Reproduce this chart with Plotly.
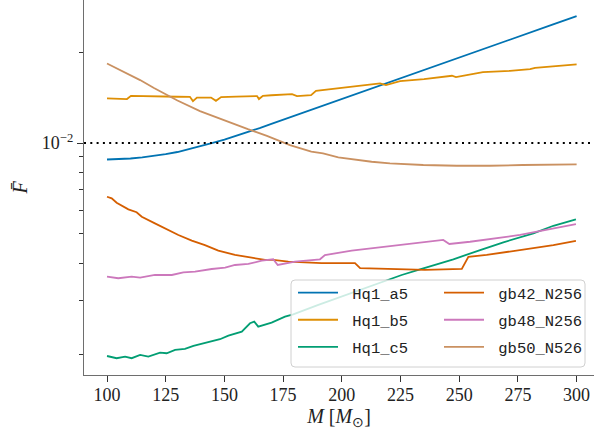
import plotly.graph_objects as go

# ---- data (M in solar masses, F-bar values) ----
m_a5 = [100, 105, 110, 115, 120, 125, 130, 135, 140, 145, 150, 155, 160, 165, 170, 180, 190, 200,
        210, 220, 230, 240, 250, 260, 270, 280, 290, 300]
f_a5 = [0.00882, 0.00885, 0.00889, 0.00897, 0.00906, 0.00919, 0.00934, 0.00954, 0.00977, 0.01001,
        0.01027, 0.01056, 0.01086, 0.01121, 0.01157, 0.01232, 0.01313, 0.01399, 0.01490, 0.01588,
        0.01691, 0.01801, 0.01919, 0.02044, 0.02178, 0.02320, 0.02472, 0.02634]

m_b5 = [100, 104, 108.5, 110.2, 115, 120, 125, 130, 135.3, 136.6, 138.3, 144.3, 146.4, 148.6, 155,
        160, 163.9, 164.7, 166.4, 170, 175, 178.8, 180.9, 186.9, 189, 200, 210, 216.3, 218.8, 224.8,
        235, 246.9, 248.6, 257.6, 260.1, 271.6, 280.2, 282.3, 290, 300]
f_b5 = [0.01406, 0.01404, 0.01399, 0.01434, 0.01430, 0.01427, 0.01425, 0.01424, 0.01423, 0.01377,
        0.01415, 0.01415, 0.01380, 0.01420, 0.01425, 0.01428, 0.01431, 0.01399, 0.01434, 0.01440,
        0.01447, 0.01453, 0.01431, 0.01442, 0.01490, 0.01525, 0.01555, 0.01577, 0.01556, 0.01604,
        0.01629, 0.01671, 0.01654, 0.01701, 0.01718, 0.01735, 0.01758, 0.01776, 0.01800, 0.01822]

m_c5 = [100, 104.1, 107.7, 110.5, 114.1, 117.6, 122.6, 125.4, 129, 133.2, 136.8, 141.7, 144.6, 148.1,
        151.7, 157.4, 160.9, 162.7, 164.4, 170.1, 175.8, 179.3, 190, 200, 210, 219.8, 225.5, 233.3,
        247.5, 258.9, 268.8, 281.6, 290.1, 299.7]
f_c5 = [0.001970, 0.001937, 0.001960, 0.001937, 0.001986, 0.001960, 0.002021, 0.002012, 0.002063,
        0.002079, 0.002127, 0.002172, 0.002211, 0.002239, 0.002301, 0.002372, 0.002529, 0.002560,
        0.002464, 0.002541, 0.002659, 0.002708, 0.002908, 0.003105, 0.003316, 0.003537, 0.003655,
        0.003817, 0.004120, 0.004420, 0.004690, 0.005020, 0.005320, 0.005590]

m_gb42 = [100, 102, 104.1, 109.1, 112.6, 114.8, 120.4, 125.4, 130.4, 136.1, 141.7, 147.4, 154.5,
          161.6, 167.3, 170.8, 177.2, 191.4, 204.2, 205.6, 207.8, 235.4, 251.1, 253.9, 261.7, 275.9,
          290.1, 299.7]
f_gb42 = [0.00664, 0.00656, 0.00634, 0.00603, 0.00590, 0.00570, 0.00542, 0.00518, 0.00496, 0.00475,
          0.00459, 0.00440, 0.00426, 0.00417, 0.00410, 0.00410, 0.00405, 0.00400, 0.00402, 0.00400,
          0.00385, 0.00380, 0.00383, 0.00420, 0.00426, 0.00442, 0.00459, 0.00474]

m_gb48 = [100, 104.8, 110.5, 114.1, 120.4, 127.6, 132.5, 137.5, 144.6, 150.3, 154.5, 160.2, 165.9,
          170.8, 172.7, 180.1, 190.7, 192.8, 204.2, 212.7, 222.6, 235.4, 243.2, 245.8, 254.6, 275.9,
          299.7]
f_gb48 = [0.003608, 0.003565, 0.003608, 0.003580, 0.003655, 0.003655, 0.003731, 0.003750, 0.003826,
          0.003864, 0.003945, 0.003975, 0.004077, 0.004120, 0.003945, 0.004045, 0.004120, 0.004257,
          0.004399, 0.004480, 0.004570, 0.004710, 0.004775, 0.004630, 0.004710, 0.004960, 0.005390]

m_gb50 = [100, 110, 114.1, 120, 126.8, 130, 139.6, 150, 153.7, 160, 168.1, 177.9, 187, 192, 198.5,
          206.3, 212.7, 220.5, 234.7, 249, 263, 277, 300]
f_gb50 = [0.01834, 0.01676, 0.01617, 0.01522, 0.01420, 0.01383, 0.01276, 0.01186, 0.01156, 0.01112,
          0.01057, 0.00985, 0.00936, 0.00924, 0.00897, 0.00878, 0.00867, 0.00857, 0.00846, 0.00841,
          0.00841, 0.00846, 0.00850]

names = ["Hq1_a5", "Hq1_b5", "Hq1_c5", "gb42_N256", "gb48_N256", "gb50_N526"]
colors = ["#0173B2", "#DE8F05", "#029E73", "#D55E00", "#CC78BC", "#CA9161"]
series = [(m_a5, f_a5), (m_b5, f_b5), (m_c5, f_c5), (m_gb42, f_gb42), (m_gb48, f_gb48), (m_gb50, f_gb50)]

xticks = [100, 125, 150, 175, 200, 225, 250, 275, 300]
y_major = [0.01]
y_major_text = ["10<sup>−2</sup>"]
y_minor = [0.002, 0.003, 0.004, 0.005, 0.006, 0.007, 0.008, 0.009, 0.02]

SERIF = "Liberation Serif"
MONO = "Liberation Mono"

fig = go.Figure()
for i, (name, (mx, fy)) in enumerate(zip(names, series)):
    fig.add_trace(go.Scatter(
        x=mx, y=fy, mode="lines", name="\u00a0" + name,
        line=dict(color=colors[i], width=1.8),
        legend="legend" if i < 3 else "legend2",
        legendgroup=name, hoverinfo="skip"))

fig.add_hline(y=0.01, line=dict(color="black", width=2, dash="2px,4.3px"))

# legend frame (rounded) in paper coords
W, H = 510.0, 375.0
x0, x1 = (291 - 84) / W, (585 - 84) / W
yt, yb = (375 - 280) / H, (375 - 367) / H
rx, ry = 4 / W, 4 / H
path = (f"M {x0+rx},{yt} L {x1-rx},{yt} Q {x1},{yt} {x1},{yt-ry} L {x1},{yb+ry} "
        f"Q {x1},{yb} {x1-rx},{yb} L {x0+rx},{yb} Q {x0},{yb} {x0},{yb+ry} L {x0},{yt-ry} "
        f"Q {x0},{yt} {x0+rx},{yt} Z")
fig.add_shape(type="path", path=path, xref="paper", yref="paper",
              fillcolor="rgba(255,255,255,0.8)", line=dict(color="#d0d0d0", width=1), layer="above")

legend_common = dict(bgcolor="rgba(0,0,0,0)", borderwidth=0,
                     font=dict(family=MONO, size=15.5, color="#222"),
                     itemwidth=40, tracegroupgap=4, traceorder="grouped",
                     xanchor="left", yanchor="top")

fig.update_layout(
    width=594, height=433,
    margin=dict(l=84, r=0, t=0, b=58),
    plot_bgcolor="white", paper_bgcolor="white",
    showlegend=True,
    legend=dict(x=(293 - 84) / W, y=(375 - 276) / H, **legend_common),
    legend2=dict(x=(439 - 84) / W, y=(375 - 276) / H, **legend_common),
    xaxis=dict(
        range=[90.2, 307.4], tickmode="array", tickvals=xticks,
        ticks="outside", ticklen=6, tickwidth=1.2, tickcolor="#333",
        showline=True, linecolor="#6e6e6e", linewidth=1.4,
        showgrid=False, zeroline=False,
        tickfont=dict(family=SERIF, size=18, color="#222"),
        ticklabelstandoff=-3,
        title=dict(text="<i>M</i> [<i>M</i><sub>⊙</sub>]",
                   font=dict(family=SERIF, size=20, color="#222"), standoff=0),
    ),
    yaxis=dict(
        type="log", range=[-2.7685, -1.526],
        tickmode="array", tickvals=y_major, ticktext=y_major_text,
        ticks="outside", ticklen=6, tickwidth=1.2, tickcolor="#333",
        showline=True, linecolor="#6e6e6e", linewidth=1.4,
        showgrid=False, zeroline=False,
        tickfont=dict(family=SERIF, size=18, color="#222"),
        minor=dict(tickmode="array", tickvals=y_minor, ticks="outside", ticklen=3.5,
                   tickwidth=1, tickcolor="#333", showgrid=False),
        title=dict(text="<i>F̄</i>", font=dict(family=SERIF, size=20, color="#222"), standoff=8),
    ),
)

fig.write_html("out.html")
